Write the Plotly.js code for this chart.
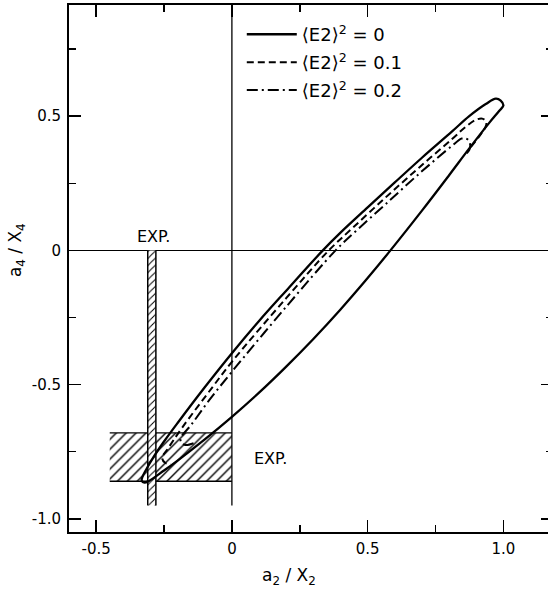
<!DOCTYPE html>
<html><head><meta charset="utf-8">
<script src="https://cdn.plot.ly/plotly-3.0.1.min.js"></script>
<style>
html,body{margin:0;padding:0;overflow:hidden;background:#fff;}
#chart{width:556px;height:590px;}
</style></head>
<body><div id="chart"></div>
<script>
// <E2>^2 = 0 contour (solid), closed loop
const e0X = [1.000, 0.990, 0.972, 0.935, 0.873, 0.811, 0.700, 0.600, 0.500, 0.400, 0.335, 0.200, 0.100, 0.000, -0.100, -0.200, -0.250, -0.290, -0.315, -0.330, -0.332, -0.322, -0.310, -0.250, -0.200, -0.100, 0.000, 0.100, 0.200, 0.300, 0.400, 0.500, 0.584, 0.700, 0.800, 0.873, 0.947, 0.985, 1.000];
const e0Y = [0.540, 0.558, 0.565, 0.545, 0.499, 0.443, 0.345, 0.253, 0.160, 0.066, 0.000, -0.150, -0.263, -0.383, -0.510, -0.643, -0.712, -0.772, -0.815, -0.845, -0.858, -0.865, -0.862, -0.820, -0.783, -0.704, -0.620, -0.530, -0.433, -0.330, -0.220, -0.103, 0.000, 0.148, 0.280, 0.378, 0.474, 0.520, 0.540];
// <E2>^2 = 0.1 contour (dashed), joins the solid lower edge at both ends
const e1X = [0.880, 0.915, 0.935, 0.937, 0.925, 0.900, 0.861, 0.811, 0.689, 0.566, 0.443, 0.357, 0.200, 0.000, -0.072, -0.183, -0.238, -0.257, -0.245, -0.225];
const e1Y = [0.385, 0.430, 0.462, 0.478, 0.490, 0.487, 0.460, 0.415, 0.308, 0.197, 0.082, 0.000, -0.178, -0.415, -0.510, -0.660, -0.742, -0.773, -0.792, -0.795];
// <E2>^2 = 0.2 contour (dash-dot)
const e2X = [0.865, 0.875, 0.878, 0.872, 0.858, 0.845, 0.811, 0.689, 0.566, 0.461, 0.382, 0.200, 0.000, -0.085, -0.150, -0.189, -0.185, -0.170, -0.135];
const e2Y = [0.362, 0.375, 0.390, 0.410, 0.418, 0.416, 0.390, 0.285, 0.172, 0.076, 0.000, -0.210, -0.452, -0.560, -0.650, -0.700, -0.718, -0.725, -0.716];

// experimental bands
const expA2 = [-0.31, -0.28];      // a2/X2 band (vertical strip)
const expA2Span = [-0.95, 0];      // its a4/X4 extent
const expA4 = [-0.86, -0.68];      // a4/X4 band (horizontal strip)
const expA4Span = [-0.45, 0];      // its a2/X2 extent
const axisLineBottom = -0.95;      // a2=0 reference line lower end

const seriesNames = ['⟨E2⟩<sup>2</sup> = 0', '⟨E2⟩<sup>2</sup> = 0.1', '⟨E2⟩<sup>2</sup> = 0.2'];
const xTickVals = [-0.5, 0, 0.5, 1.0];
const xTickText = ['-0.5', '0', '0.5', '1.0'];
const xMinorVals = [-0.25, 0.25, 0.75];
const yTickVals = [0.5, 0, -0.5, -1.0];
const yTickText = ['0.5', '0', '-0.5', '-1.0'];
const yMinorVals = [0.75, 0.25, -0.25, -0.75];

const FONT = 'DejaVu Sans, Arial, sans-serif';
const hatch = {shape: '/', size: 7, solidity: 0.2, fgcolor: 'black', bgcolor: 'white', fillmode: 'replace'};

function rect(xr, yr) {
  return {x: [xr[0], xr[1], xr[1], xr[0], xr[0]], y: [yr[0], yr[0], yr[1], yr[1], yr[0]]};
}
const hBand = rect(expA4Span, expA4);
const vBand = rect(expA2, expA2Span);

const traces = [
  {x: hBand.x, y: hBand.y, mode: 'lines', fill: 'toself', fillcolor: 'white', fillpattern: hatch,
   line: {width: 0, color: 'black'}, showlegend: false, hoverinfo: 'skip'},
  {x: [expA4Span[0], expA4Span[1], null, expA4Span[0], expA4Span[1]],
   y: [expA4[1], expA4[1], null, expA4[0], expA4[0]],
   mode: 'lines', line: {width: 1.3, color: 'black'}, showlegend: false, hoverinfo: 'skip'},
  {x: [0, 0], y: [axisLineBottom, 1.5], mode: 'lines', line: {width: 1.3, color: 'black'}, showlegend: false, hoverinfo: 'skip'},
  {x: vBand.x, y: vBand.y, mode: 'lines', fill: 'toself', fillcolor: 'white',
   fillpattern: Object.assign({}, hatch, {size: 5}),
   line: {width: 0, color: 'black'}, showlegend: false, hoverinfo: 'skip'},
  {x: [expA2[0], expA2[0], null, expA2[1], expA2[1]],
   y: [expA2Span[0], expA2Span[1], null, expA2Span[0], expA2Span[1]],
   mode: 'lines', line: {width: 1.5, color: 'black'}, showlegend: false, hoverinfo: 'skip'},
  {x: e0X, y: e0Y, name: seriesNames[0], mode: 'lines', legendgroup: 'a',
   line: {color: 'black', width: 2.3, shape: 'spline', smoothing: 1}},
  {x: e1X, y: e1Y, name: seriesNames[1], mode: 'lines', legendgroup: 'b',
   line: {color: 'black', width: 2, dash: '7px,4px', shape: 'spline', smoothing: 1}},
  {x: e2X, y: e2Y, name: seriesNames[2], mode: 'lines', legendgroup: 'c',
   line: {color: 'black', width: 2, dash: '11px,4px,2px,4px', shape: 'spline', smoothing: 1}}
];

const axisCommon = {
  tickmode: 'array', ticks: 'inside', ticklen: 12, tickwidth: 1.5, tickcolor: 'black',
  showline: true, linewidth: 2, linecolor: 'black', mirror: 'ticks', showgrid: false,
  tickfont: {family: FONT, size: 15, color: 'black'}
};

const layout = {
  width: 556, height: 590,
  margin: {l: 69, r: 3, t: 5, b: 58},
  paper_bgcolor: 'white', plot_bgcolor: 'white',
  showlegend: true,
  legend: {x: 0.357, xanchor: 'left', y: 0.979, yanchor: 'top', bgcolor: 'rgba(0,0,0,0)',
           borderwidth: 0, tracegroupgap: 1.5, itemwidth: 50,
           font: {family: FONT, size: 18, color: 'black'}},
  xaxis: Object.assign({}, axisCommon, {
    range: [-0.6, 1.1827], tickvals: xTickVals, ticktext: xTickText, zeroline: false,
    ticklabelstandoff: 2,
    minor: {tickmode: 'array', tickvals: xMinorVals, ticks: 'inside', ticklen: 7, tickwidth: 1.5, tickcolor: 'black', showgrid: false}
  }),
  yaxis: Object.assign({}, axisCommon, {
    range: [-1.049, 0.914], tickvals: yTickVals, ticktext: yTickText,
    zeroline: true, zerolinecolor: 'black', zerolinewidth: 1.3,
    ticklabelstandoff: 3,
    minor: {tickmode: 'array', tickvals: yMinorVals, ticks: 'inside', ticklen: 7, tickwidth: 1.5, tickcolor: 'black', showgrid: false}
  }),
  annotations: [
    {text: 'a<sub>2</sub> / X<sub>2</sub>', xref: 'x', yref: 'paper', x: 0.21, y: -0.085,
     xanchor: 'center', yanchor: 'middle', showarrow: false, font: {family: FONT, size: 17, color: 'black'}},
    {text: 'a<sub>4</sub> / X<sub>4</sub>', xref: 'paper', yref: 'y', x: -0.108, y: 0.0,
     textangle: -90, xanchor: 'center', yanchor: 'middle', showarrow: false, font: {family: FONT, size: 17, color: 'black'}},
    {text: 'EXP.', xref: 'x', yref: 'y', x: -0.288, y: 0.052, showarrow: false,
     xanchor: 'center', yanchor: 'middle', font: {family: FONT, size: 16, color: 'black'}},
    {text: 'EXP.', xref: 'x', yref: 'y', x: 0.143, y: -0.775, showarrow: false,
     xanchor: 'center', yanchor: 'middle', font: {family: FONT, size: 16, color: 'black'}}
  ]
};

Plotly.newPlot('chart', traces, layout, {displayModeBar: false, staticPlot: true});
</script>
</body></html>
